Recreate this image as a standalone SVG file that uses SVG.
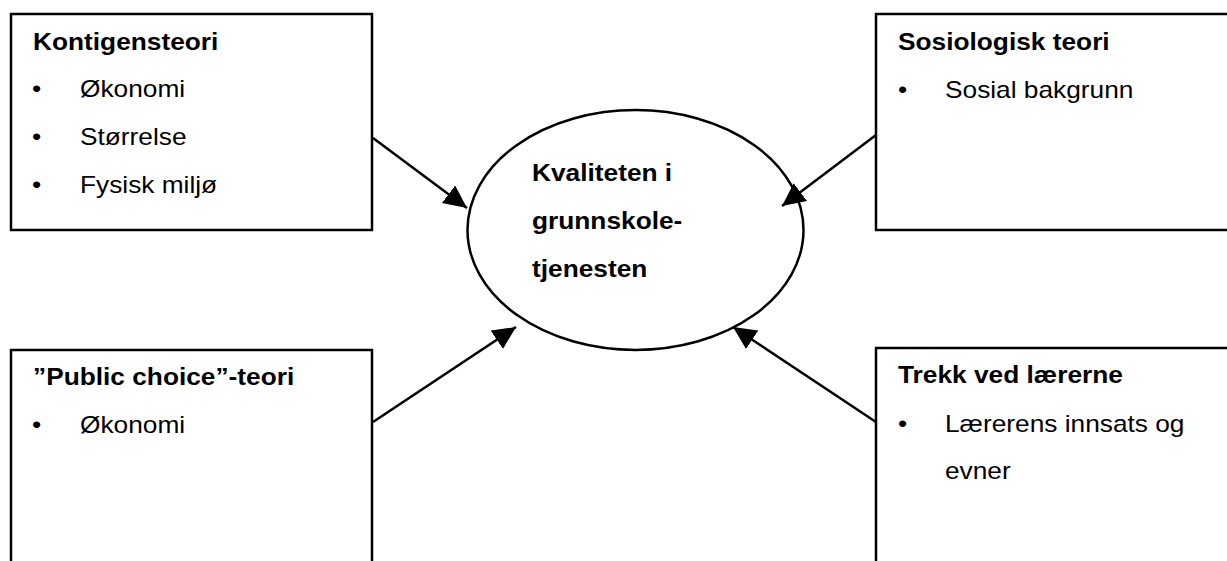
<svg xmlns="http://www.w3.org/2000/svg" width="1227" height="561" viewBox="0 0 1227 561">
<style>
.box{fill:#fff;stroke:#000;stroke-width:2.5}
.t{font-family:"Liberation Sans",Arial,sans-serif;font-size:24px;fill:#000}
.b{font-weight:bold}
.con line{stroke:#000;stroke-width:2.5}
</style>
<defs>
<marker id="ah" markerUnits="userSpaceOnUse" markerWidth="26" markerHeight="24" refX="23" refY="11" orient="auto">
<path d="M0,0 L23,11 L0,22 z" fill="#000"/>
</marker>
</defs>
<rect width="1227" height="561" fill="#fff"/>
<g id="kontigensteori">
<rect class="box" x="11" y="14" width="361" height="216"/>
<text class="t b" transform="matrix(1.095 0 0 1 33 50)">Kontigensteori</text>
<text class="t" transform="matrix(1.095 0 0 1 32 97)">•</text>
<text class="t" transform="matrix(1.095 0 0 1 80 97)">Økonomi</text>
<text class="t" transform="matrix(1.095 0 0 1 32 145)">•</text>
<text class="t" transform="matrix(1.095 0 0 1 80 145)">Størrelse</text>
<text class="t" transform="matrix(1.095 0 0 1 32 193)">•</text>
<text class="t" transform="matrix(1.095 0 0 1 80 193)">Fysisk miljø</text>
</g>
<g id="sosiologisk">
<rect class="box" x="876" y="14" width="400" height="216"/>
<text class="t b" transform="matrix(1.095 0 0 1 898 50)">Sosiologisk teori</text>
<text class="t" transform="matrix(1.095 0 0 1 898 98)">•</text>
<text class="t" transform="matrix(1.095 0 0 1 945 98)">Sosial bakgrunn</text>
</g>
<g id="publicchoice">
<rect class="box" x="11" y="350" width="361" height="300"/>
<text class="t b" transform="matrix(1.095 0 0 1 33 385)">”Public choice”-teori</text>
<text class="t" transform="matrix(1.095 0 0 1 32 433)">•</text>
<text class="t" transform="matrix(1.095 0 0 1 80 433)">Økonomi</text>
</g>
<g id="trekk">
<rect class="box" x="876" y="348" width="400" height="300"/>
<text class="t b" transform="matrix(1.095 0 0 1 898 383)">Trekk ved lærerne</text>
<text class="t" transform="matrix(1.095 0 0 1 898 432)">•</text>
<text class="t" transform="matrix(1.095 0 0 1 945 432)">Lærerens innsats og</text>
<text class="t" transform="matrix(1.095 0 0 1 945 479)">evner</text>
</g>
<g id="kvalitet">
<ellipse class="box" cx="635.5" cy="230" rx="168" ry="120"/>
<text class="t b" transform="matrix(1.095 0 0 1 532 181)">Kvaliteten i</text>
<text class="t b" transform="matrix(1.095 0 0 1 532 229)">grunnskole-</text>
<text class="t b" transform="matrix(1.095 0 0 1 532 277)">tjenesten</text>
</g>
<g id="connectors" class="con">
<line x1="373" y1="138" x2="467" y2="208" marker-end="url(#ah)"/>
<line x1="876" y1="135" x2="782" y2="206" marker-end="url(#ah)"/>
<line x1="373" y1="422" x2="516" y2="327" marker-end="url(#ah)"/>
<line x1="876" y1="422" x2="733" y2="327" marker-end="url(#ah)"/>
</g>
</svg>
